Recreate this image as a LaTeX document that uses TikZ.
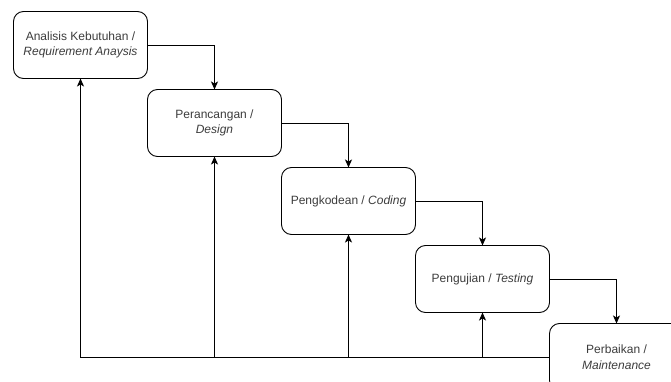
\documentclass[tikz,border=0pt]{standalone}
\usepackage{fontspec}
\setmainfont{Liberation Sans}
\usepackage{tikz}
\usetikzlibrary{arrows.meta}
\usetikzlibrary{positioning}
\definecolor{teks}{HTML}{3C3C3C}

\begin{document}
\begin{tikzpicture}[x=1pt, y=-1pt,
                    tahap/.style={draw, line width=0.9pt, rounded corners=10pt, minimum width=134pt,
                                  minimum height=67pt, align=center, text=teks, inner sep=0pt,
                                  outer sep=0pt, font=\fontsize{12}{15.5}\selectfont},
                    panah/.style={line width=0.9pt, -{Stealth[length=8pt, width=7pt, inset=2pt]}}]
                    \path[use as bounding box, clip] (0,0) rectangle (671,382);
                    \node[tahap] (a1) at (80.5,45) {Analisis Kebutuhan /\\\textit{Requirement Anaysis}};
                    \node[tahap, below right=11pt and 0pt of a1] (a2) {Perancangan /\\\textit{Design}};
                    \node[tahap, below right=11pt and 0pt of a2] (a3) {Pengkodean / \textit{Coding}};
                    \node[tahap, below right=11pt and 0pt of a3] (a4) {Pengujian / \textit{Testing}};
                    \node[tahap, below right=11pt and 0pt of a4] (a5) {Perbaikan /\\\textit{Maintenance}};
                    \draw[panah] (a1.east) -| (a2.north);
                    \draw[panah] (a2.east) -| (a3.north);
                    \draw[panah] (a3.east) -| (a4.north);
                    \draw[panah] (a4.east) -| (a5.north);
                    \draw[panah] (a5.west) -| (a1.south);
                    \draw[panah] (a2.south |- a5.west) -- (a2.south);
                    \draw[panah] (a3.south |- a5.west) -- (a3.south);
                    \draw[panah] (a4.south |- a5.west) -- (a4.south);
                \end{tikzpicture}
\end{document}
